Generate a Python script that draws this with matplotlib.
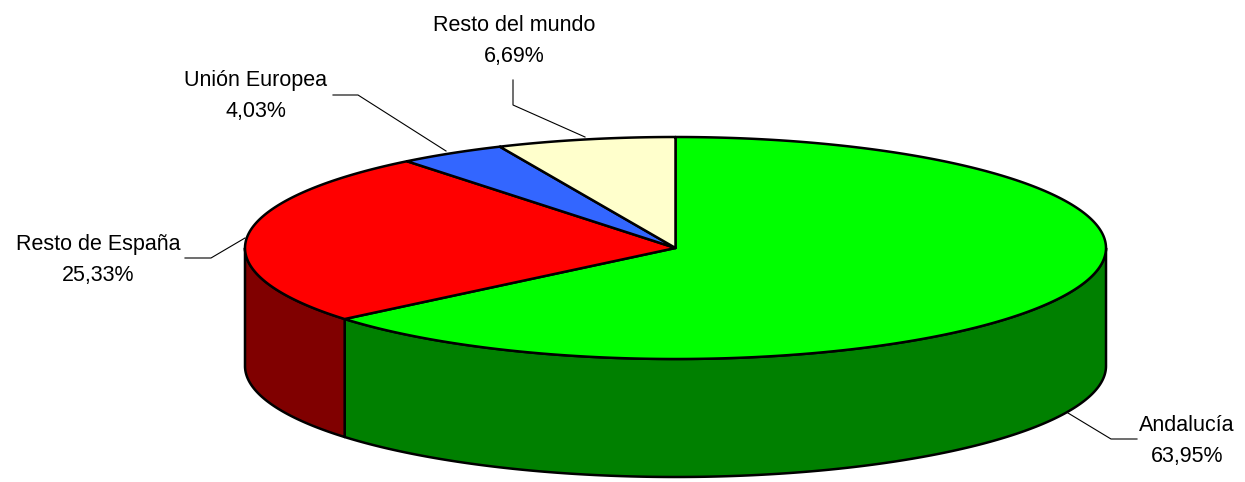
import numpy as np
import matplotlib
matplotlib.use("Agg")
from matplotlib import pyplot as plt
from matplotlib.patches import Polygon

labels = ["Andalucía", "Resto de España", "Unión Europea", "Resto del mundo"]
values = [63.95, 25.33, 4.03, 6.69]
top_colors = ["#00ff00", "#ff0000", "#3366ff", "#ffffcc"]
side_colors = ["#008000", "#800000", "#1a3380", "#808066"]

# label text positions and leader lines (pixel coords)
label_pos = [(1187, 441), (98, 260), (256, 96), (514, 41)]
leaders = [
    [(1137, 439), (1111, 439), (1068, 413)],
    [(185, 258), (211, 258), (245, 238)],
    [(333, 95), (358, 95), (446, 151)],
    [(513, 80), (513, 105), (585, 137)],
]

CX, CY, A, B, DEPTH = 675.5, 248, 430.5, 111, 118


def ell(theta_deg, dy=0):
    t = np.radians(theta_deg)
    return CX + A * np.sin(t), CY - B * np.cos(t) + dy


fig = plt.figure(figsize=(12.45, 4.82), dpi=100)
ax = fig.add_axes([0, 0, 1, 1])
ax.set_xlim(0, 1245)
ax.set_ylim(482, 0)
ax.axis("off")

bounds = np.concatenate([[0], np.cumsum(values) / sum(values) * 360])

# side walls (front half only, 90..270 deg)
for i in range(len(values)):
    lo = max(bounds[i], 90)
    hi = min(bounds[i + 1], 270)
    if hi <= lo:
        continue
    th = np.linspace(lo, hi, 200)
    x, y = ell(th)
    xb, yb = ell(th[::-1], DEPTH)
    pts = np.column_stack([np.concatenate([x, xb]), np.concatenate([y, yb])])
    ax.add_patch(Polygon(pts, closed=True, facecolor=side_colors[i],
                         edgecolor="black", lw=1.8, joinstyle="round"))

# top faces
for i in range(len(values)):
    th = np.linspace(bounds[i], bounds[i + 1], 300)
    x, y = ell(th)
    pts = np.vstack([[CX, CY], np.column_stack([x, y])])
    ax.add_patch(Polygon(pts, closed=True, facecolor=top_colors[i],
                         edgecolor="black", lw=1.8, joinstyle="round"))

for i in range(len(values)):
    lx, ly = zip(*leaders[i])
    ax.plot(lx, ly, color="black", lw=0.8)
    txt = labels[i] + "\n" + f"{values[i]:.2f}".replace(".", ",") + "%"
    ax.text(label_pos[i][0], label_pos[i][1], txt, ha="center", va="center",
            fontsize=15.5, family="Liberation Sans", linespacing=1.65)

fig.savefig("out.png", dpi=100)
